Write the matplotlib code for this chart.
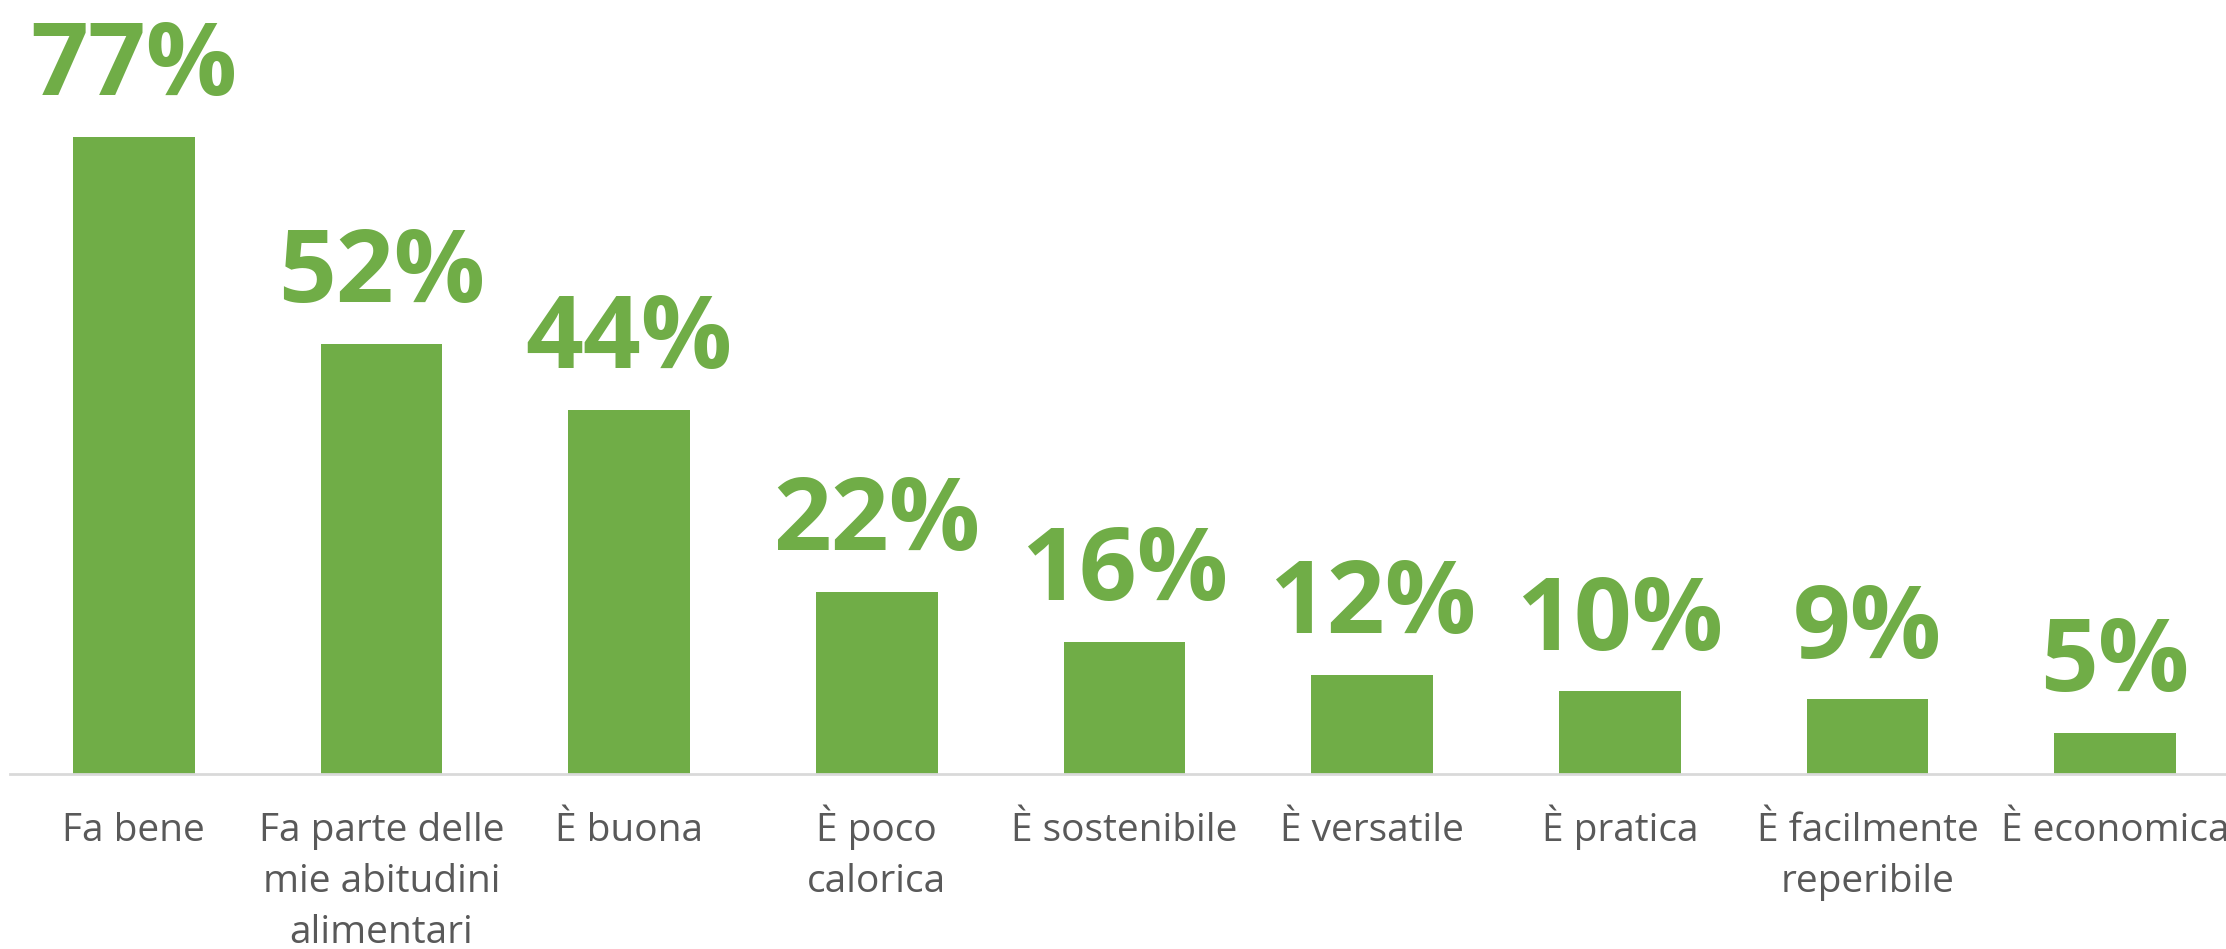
import matplotlib
matplotlib.use("Agg")
from matplotlib import pyplot as plt

# Dati del grafico --------------------------------------------------------------
categorie = ["Fa bene", "Fa parte delle\nmie abitudini\nalimentari", "È buona",
             "È poco\ncalorica", "È sostenibile", "È versatile", "È pratica",
             "È facilmente\nreperibile", "È economica"]
percentuali = [77, 52, 44, 22, 16, 12, 10, 9, 5]

VERDE = "#70AD47"
GRIGIO = "#595959"


def grafico_barre():
    fig = plt.figure(figsize=(22.26, 9.49), dpi=100)
    ax = fig.add_axes([10 / 2226, 175 / 949, 2229 / 2226, 1 - 175 / 949])

    xs = [i for i, _ in enumerate(categorie)]
    ax.bar(xs, percentuali, width=0.49, color=VERDE, zorder=2)

    # Etichette con il valore sopra ogni barra ----------------------------------
    for x, v in zip(xs, percentuali):
        ax.annotate(f"{v}%", (x, v), xytext=(0, 30), textcoords="offset points",
                    ha="center", va="baseline", fontsize=73, fontweight="bold",
                    color=VERDE, family="Open Sans")

    # Categorie sotto l'asse, una riga alla volta sulla stessa linea di base -----
    for x, nome in zip(xs, categorie):
        for i, riga in enumerate(nome.split("\n")):
            ax.annotate(riga, (x, 0), xycoords=("data", "axes fraction"),
                        xytext=(0, -48 - i * 36.8), textcoords="offset points",
                        ha="center", va="baseline", fontsize=28, color=GRIGIO,
                        family="Open Sans", annotation_clip=False)

    ax.set_xlim(-0.5, 8.5)
    ax.set_ylim(0, 93.5)
    ax.set_xticks(xs)
    ax.set_xticklabels([])
    ax.tick_params(axis="x", length=0)
    ax.set_yticks([])

    for lato in ["top", "right", "left"]:
        ax.spines[lato].set_visible(False)
    ax.spines["bottom"].set_color("#D9D9D9")
    ax.spines["bottom"].set_linewidth(2)

    fig.savefig("out.png", dpi=100)


def main():
    grafico_barre()


if __name__ == "__main__":
    main()
